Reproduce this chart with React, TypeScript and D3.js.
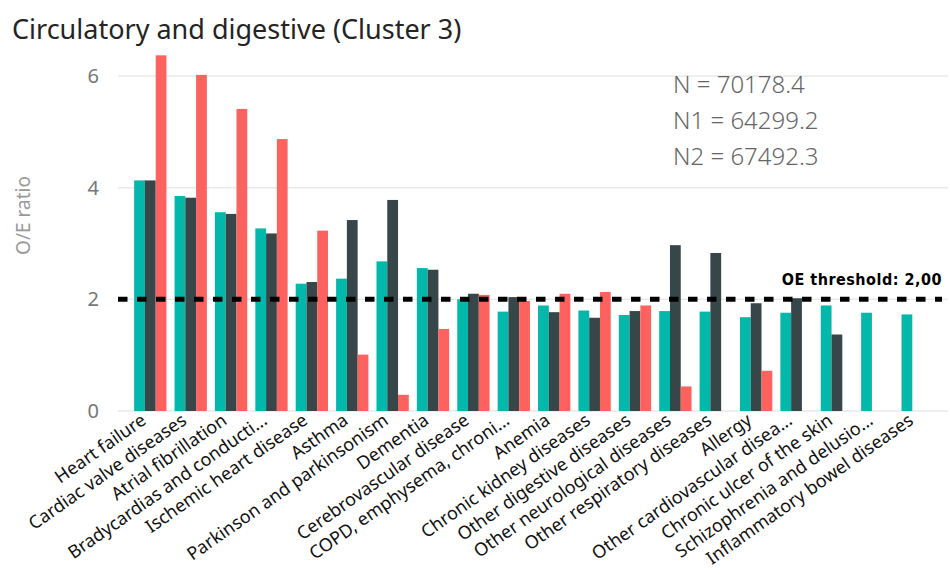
import React from 'react';
import * as d3 from 'd3';

const width = 950;
const height = 574;
const colors = ['#01B8AA', '#374649', '#FD625E'];
const font = '"Segoe UI", "Noto Sans", "Open Sans", sans-serif';

const categories = [
  'Heart failure',
  'Cardiac valve diseases',
  'Atrial fibrillation',
  'Bradycardias and conducti...',
  'Ischemic heart disease',
  'Asthma',
  'Parkinson and parkinsonism',
  'Dementia',
  'Cerebrovascular disease',
  'COPD, emphysema, chroni...',
  'Anemia',
  'Chronic kidney diseases',
  'Other digestive diseases',
  'Other neurological diseases',
  'Other respiratory diseases',
  'Allergy',
  'Other cardiovascular disea...',
  'Chronic ulcer of the skin',
  'Schizophrenia and delusio...',
  'Inflammatory bowel diseases',
];

// O/E ratio per series (null = no bar)
const seriesN = [4.13, 3.85, 3.56, 3.27, 2.28, 2.37, 2.68, 2.56, 2.0, 1.78, 1.89, 1.8, 1.72, 1.79, 1.78, 1.68, 1.76, 1.89, 1.76, 1.73];
const seriesN1 = [4.13, 3.82, 3.53, 3.18, 2.31, 3.42, 3.78, 2.53, 2.1, 2.04, 1.77, 1.67, 1.79, 2.97, 2.83, 1.93, 2.02, 1.37, null, null];
const seriesN2 = [6.37, 6.02, 5.41, 4.87, 3.23, 1.01, 0.29, 1.47, 2.08, 1.97, 2.1, 2.13, 1.89, 0.44, null, 0.72, null, null, null, null];
const series = [seriesN, seriesN1, seriesN2];

const yTicks = [0, 2, 4, 6];
const threshold = 2;
const notes = ['N = 70178.4', 'N1 = 64299.2', 'N2 = 67492.3'];

const x = d3.scaleBand<string>().domain(categories).range([118, 950]).paddingInner(0.2).paddingOuter(0.4);
const xs = d3.scaleBand<number>().domain([0, 1, 2]).range([0, x.bandwidth()]);
const y = d3.scaleLinear().domain([0, 6]).range([411, 76]);

const App = () => {
  return (
    <svg width={width} height={height} style={{ position: 'absolute', left: 0, top: 0, fontFamily: font }}>
      <rect width={width} height={height} fill="#fff" />
      <text x={12} y={39} fontSize={27} fill="#252423">
        Circulatory and digestive (Cluster 3)
      </text>

      {yTicks.map(t => (
        <g key={t}>
          <line x1={118} x2={948} y1={y(t)} y2={y(t)} stroke="#e9e9e9" strokeWidth={1.5} />
          <text x={99} y={y(t)} dy="0.35em" textAnchor="end" fontSize={20} fill="#777">
            {t}
          </text>
        </g>
      ))}
      <text transform={`translate(30,${(y(0) + y(6)) / 2 - 28}) rotate(-90)`} textAnchor="middle" fontSize={19} fill="#999">
        O/E ratio
      </text>

      {series.map((s, si) => (
        <g key={si} fill={colors[si]}>
          {s.map((v, i) =>
            v == null ? null : (
              <rect key={i} x={(x(categories[i]) as number) + (xs(si) as number)} width={xs.bandwidth()} y={y(v)} height={y(0) - y(v)} />
            )
          )}
        </g>
      ))}

      <line x1={118} x2={942} y1={y(threshold)} y2={y(threshold)} stroke="#000" strokeWidth={5} strokeDasharray="9.5 9.5" />
      <text x={942} y={285} textAnchor="end" fontSize={16} fontWeight={600} fill="#000" style={{ fontFamily: '"DejaVu Sans Condensed", "Noto Sans", sans-serif', letterSpacing: 0.5 }}>
        OE threshold: 2,00
      </text>

      {notes.map((n, i) => (
        <text key={n} x={673} y={93 + i * 36} fontSize={24} fill="#666" fontWeight={300}>
          {n}
        </text>
      ))}

      {categories.map(c => (
        <text
          key={c}
          transform={`translate(${(x(c) as number) + x.bandwidth() / 2 - 3},${y(0) + 12}) rotate(-35)`}
          textAnchor="end"
          fontSize={18}
          fill="#111"
        >
          {c}
        </text>
      ))}
    </svg>
  );
};

export default App;
